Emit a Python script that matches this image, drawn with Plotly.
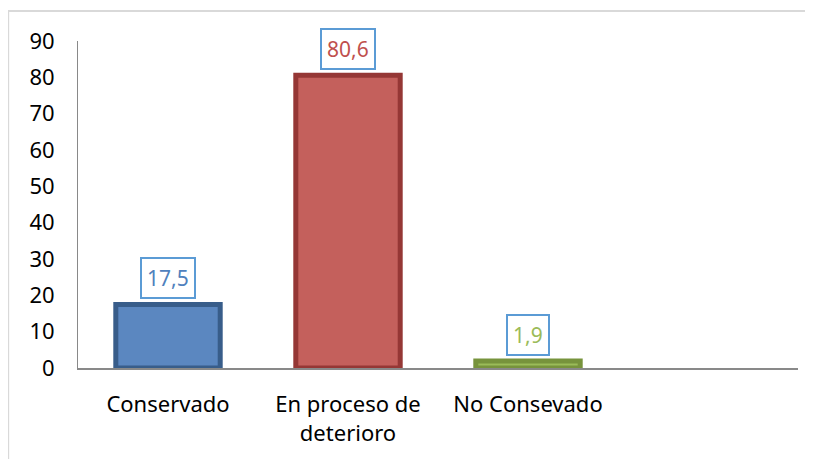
import plotly.graph_objects as go

# data
categories = ["Conservado", "En proceso de<br>deterioro", "No Consevado", " "]
values = [17.5, 80.6, 1.9, None]
labels = ["17,5", "80,6", "1,9"]
fill_colors = ["#5B87C0", "#C4605C", "#9BBB59"]
edge_colors = ["#385D8A", "#953735", "#77933C"]
label_colors = ["#4F81BD", "#C0504D", "#9BBB59"]
y_ticks = [0, 10, 20, 30, 40, 50, 60, 70, 80, 90]

font_family = "Noto Sans, Open Sans, sans-serif"

fig = go.Figure()
fig.add_trace(go.Bar(
    x=categories,
    y=values,
    width=0.58,
    marker=dict(color=fill_colors + ["rgba(0,0,0,0)"],
                line=dict(color=edge_colors + ["rgba(0,0,0,0)"], width=5)),
    hoverinfo="skip",
))

# data labels in boxes
for cat, val, lab, col in zip(categories, values, labels, label_colors):
    fig.add_annotation(
        x=cat, y=val, text=lab, showarrow=False,
        yanchor="bottom", yshift=5,
        font=dict(family=font_family, size=21, color=col),
        bgcolor="white", bordercolor="#5B9BD5", borderwidth=2, borderpad=5,
    )

# chart area border
fig.add_shape(type="rect", xref="paper", yref="paper",
              x0=-0.097, x1=1.2, y0=-0.6, y1=1.092,
              line=dict(color="#D9D9D9", width=2), layer="below")

# the page has an 8px body margin, so the figure is a bit smaller
fig.update_layout(
    width=805, height=451,
    margin=dict(l=70, r=15, t=33, b=91),
    plot_bgcolor="white", paper_bgcolor="white",
    showlegend=False,
    font=dict(family=font_family, size=22, color="black"),
    xaxis=dict(showline=True, linecolor="#898989", linewidth=2,
               showgrid=False, ticks="", ticklabelstandoff=16, zeroline=False),
    yaxis=dict(range=[0, 90], tickvals=y_ticks, showline=True,
               linecolor="#898989", linewidth=1, showgrid=False,
               ticks="", ticklabelstandoff=18, zeroline=False),
)

fig.write_html("out.html")
